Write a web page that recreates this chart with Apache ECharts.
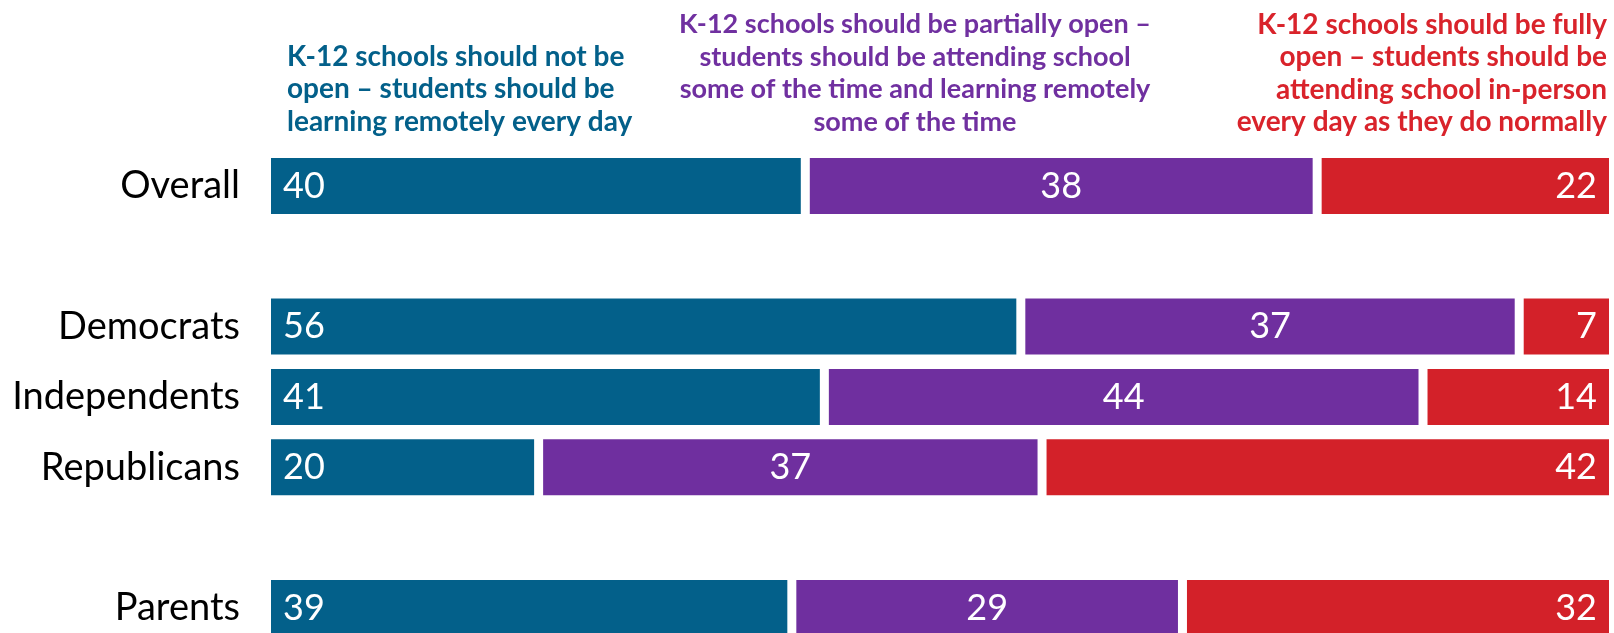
<!DOCTYPE html>
<html>
<head>
<meta charset="utf-8">
<script src="https://cdn.jsdelivr.net/npm/echarts@6/dist/echarts.min.js"></script>
<style>
html,body{margin:0;padding:0;background:#fff;}
#chart{width:1614px;height:633px;}
</style>
</head>
<body>
<div id="chart"></div>
<script>
var categories = ['Overall', '', 'Democrats', 'Independents', 'Republicans', '', 'Parents'];
var notOpen = [40, null, 56, 41, 20, null, 39];
var partiallyOpen = [38, null, 37, 44, 37, null, 29];
var fullyOpen = [22, null, 7, 14, 42, null, 32];
var seriesNames = [
  'K-12 schools should not be\nopen \u2013 students should be\nlearning remotely every day',
  'K-12 schools should be partially open \u2013\nstudents should be attending school\nsome of the time and learning remotely\nsome of the time',
  'K-12 schools should be fully\nopen \u2013 students should be\nattending school in-person\nevery day as they do normally'
];

var raw = [notOpen, partiallyOpen, fullyOpen];
// share of each row total (rows are drawn full width)
function share(arr, i) {
  if (arr[i] == null) return null;
  var t = notOpen[i] + partiallyOpen[i] + fullyOpen[i];
  return arr[i] / t * 100;
}

var colors = ['#03608A', '#6F2F9F', '#D32129'];
var textColors = ['#03608A', '#7030A0', '#D9232B'];
var FONT = 'Lato';

var chart = echarts.init(document.getElementById('chart'), null, {renderer: 'canvas'});

var labelPos = ['insideLeft', 'inside', 'insideRight'];
var series = raw.map(function (arr, s) {
  return {
    name: seriesNames[s],
    type: 'bar',
    stack: 'total',
    barWidth: 65,
    itemStyle: {color: colors[s], borderColor: '#ffffff', borderWidth: 4.5},
    emphasis: {disabled: true},
    label: {
      show: true,
      position: labelPos[s],
      distance: 16.5,
      color: '#ffffff',
      fontFamily: FONT,
      fontSize: 36,
      formatter: function (p) { return raw[s][p.dataIndex]; }
    },
    data: arr.map(function (v, i) { return share(arr, i); })
  };
});

var option = {
  animation: false,
  backgroundColor: '#ffffff',
  grid: {left: 266.5, right: 0.5, top: 150.8, height: 492.3, containLabel: false, outerBoundsMode: 'none'},
  xAxis: {type: 'value', min: 0, max: 100, show: false},
  yAxis: {
    type: 'category',
    inverse: true,
    data: categories,
    axisLine: {show: false},
    axisTick: {show: false},
    splitLine: {show: false},
    axisLabel: {color: '#000000', fontFamily: FONT, fontSize: 38, margin: 26.5}
  },
  graphic: [
    {type: 'text', x: 287, y: 40.5, style: {text: seriesNames[0], fill: textColors[0], font: 'bold 28px ' + FONT, textAlign: 'left', textVerticalAlign: 'top', lineHeight: 32.5}},
    {type: 'text', x: 915, y: 8.5, style: {text: seriesNames[1], fill: textColors[1], font: 'bold 27px ' + FONT, textAlign: 'center', textVerticalAlign: 'top', lineHeight: 32.5}},
    {type: 'text', x: 1607, y: 8.5, style: {text: seriesNames[2], fill: textColors[2], font: 'bold 28px ' + FONT, textAlign: 'right', textVerticalAlign: 'top', lineHeight: 32.5}}
  ],
  series: series
};
chart.setOption(option);
</script>
</body>
</html>
